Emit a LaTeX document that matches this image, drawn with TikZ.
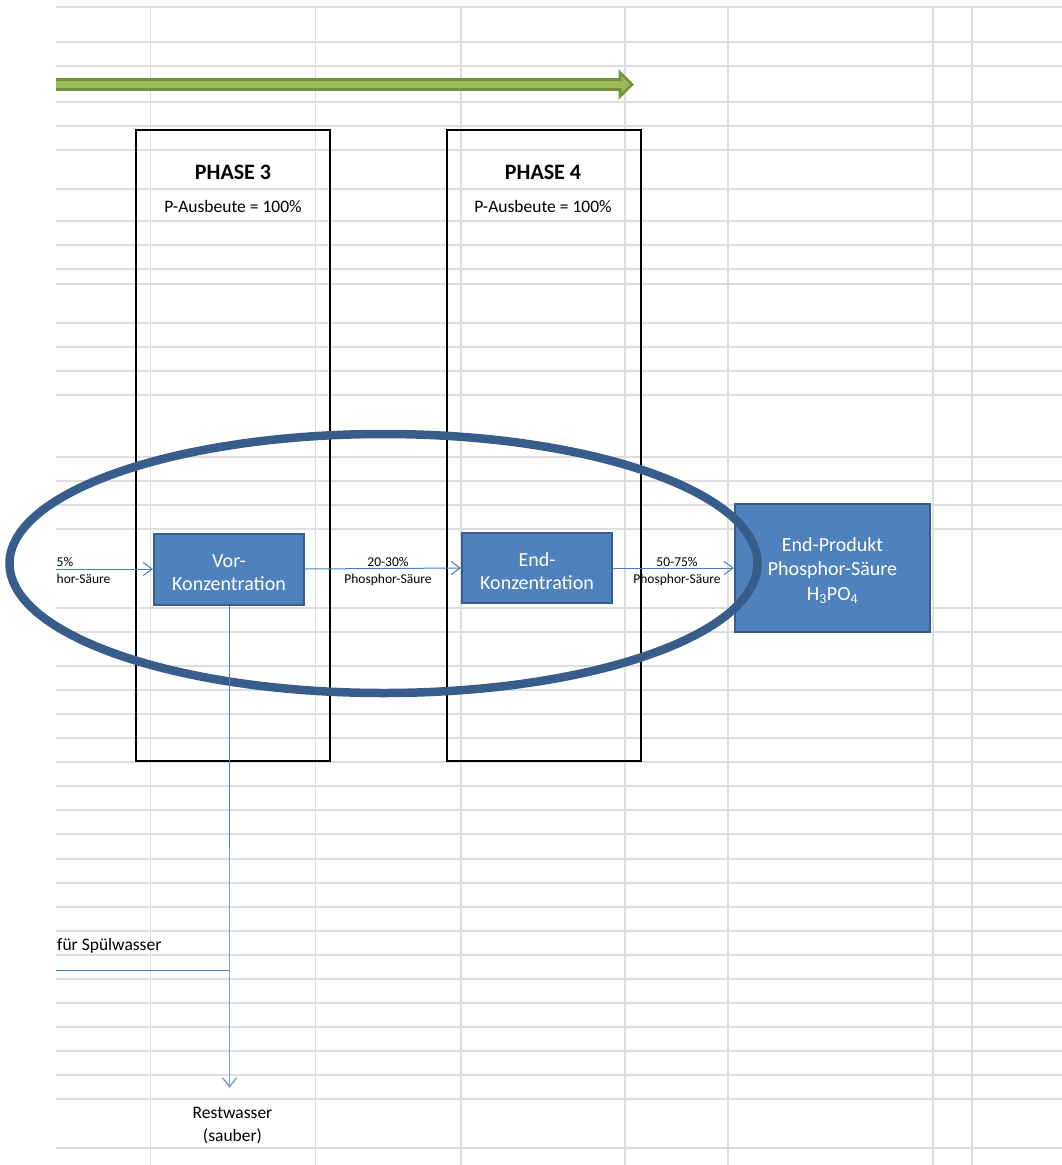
\documentclass[tikz,border=0pt]{standalone}
\usepackage{fontspec}
\setmainfont{Carlito}
\usetikzlibrary{arrows.meta}

\definecolor{gridgray}{RGB}{221,221,221}
\definecolor{boxblue}{RGB}{79,129,189}
\definecolor{boxedge}{RGB}{56,93,138}
\definecolor{ringblue}{RGB}{56,93,138}
\definecolor{flowblue}{RGB}{74,126,187}
\definecolor{drainblue}{RGB}{124,160,215}
\definecolor{arrowfill}{RGB}{155,187,89}
\definecolor{arrowedge}{RGB}{118,146,60}

% extra height in front of the first line of a box label, to seat the text a little lower
\newcommand{\firstlinelift}[1]{\rule{0pt}{#1}}

\begin{document}
\begin{tikzpicture}[x=1pt,y=-1pt,
  gridline/.style={draw=gridgray,line width=1.2},
  phasebox/.style={draw=black,line width=2.6,minimum width=194,minimum height=631,inner sep=0},
  phasetitle/.style={inner sep=0,font=\fontsize{22}{26}\selectfont\bfseries},
  yieldtext/.style={inner sep=0,font=\fontsize{17.5}{21}\selectfont},
  procbox/.style={fill=boxblue,draw=boxedge,line width=2,text=white,align=center,inner sep=0,
    font=\fontsize{20}{23}\selectfont},
  smalllabel/.style={inner sep=0,font=\fontsize{13.5}{17}\selectfont},
  notetext/.style={inner sep=0,font=\fontsize{17.5}{23}\selectfont},
  flow/.style={draw=flowblue,line width=1,-{Straight Barb[length=9,width=13]}},
  flowplain/.style={draw=flowblue,line width=1},
  drain/.style={draw=drainblue,line width=1.5,-{Straight Barb[length=9,width=14]}}
]
\useasboundingbox (0,0) rectangle (1062,1165);
\fill[white] (0,0) rectangle (1062,1165);

% worksheet grid
\foreach \y in {7,42,66,102,126,150,189,221,245,269,284,323,347,371,395,457,481,505,529,
                608,632,666,690,714,738,762,786,810,834,859,883,907,931,955,979,1003,1027,
                1051,1075,1099,1148}
  \draw[gridline] (56,\y) -- (1062,\y);
\foreach \x in {150.5,315.5,461,625,728,933,972}
  \draw[gridline] (\x,7) -- (\x,1165);

% process direction arrow
\begin{scope}
  \clip (56,0) rectangle (1062,200);
  \draw[draw=arrowedge,fill=arrowfill,line width=2.8,line join=miter]
    (40,79.5) -- (620,79.5) -- (620,72.5) -- (632,84.5) -- (620,96.5) -- (620,89.5) -- (40,89.5) -- cycle;
\end{scope}

% phase frames
\node[phasebox] (ph3) at (233,445.5) {};
\node[phasebox] (ph4) at (544,445.5) {};
\node[phasetitle,anchor=base] (ph3t) at (233,179) {PHASE 3};
\node[yieldtext,anchor=base] (ph3y) at (233,212) {P-Ausbeute = 100\%};
\node[phasetitle,anchor=base] (ph4t) at (543,179) {PHASE 4};
\node[yieldtext,anchor=base] (ph4y) at (543,212) {P-Ausbeute = 100\%};

% process steps
\node[procbox,minimum width=150,minimum height=71] (vor) at (229,569)
  {\firstlinelift{20.5pt}Vor-\\Konzentration};
\node[procbox,minimum width=150,minimum height=70] (endk) at (537,568)
  {\firstlinelift{20.5pt}End-\\Konzentration};
\node[procbox,minimum width=195,minimum height=128,font=\fontsize{20}{24.5}\selectfont] (prod)
  at (832.5,568) {\firstlinelift{18.5pt}End-Produkt\\Phosphor-Säure\\H\textsubscript{3}PO\textsubscript{4}};

% highlight ring
\draw[draw=ringblue,line width=8.5] (383.5,563.5) ellipse [x radius=374, y radius=129.5];

% flows
\coordinate (feedin) at (56,569);
\coordinate (rinse) at (56,970);
\coordinate (drainstart) at (229.5,848);
\coordinate (drainend) at (229.5,1088);
\draw[flow] (feedin) -- (vor.west);
\draw[flow] (vor.east) -- (endk.west);
\draw[flow] (endk.east) -- (prod.west);
\draw[flowplain] (vor.south) |- (rinse);
\draw[drain] (drainstart) -- (drainend);

% flow labels
\node[smalllabel,anchor=base west] (inA) at (56.5,566) {5\%};
\node[smalllabel,anchor=base west] (inB) at (56.5,583) {hor-Säure};
\node[smalllabel,anchor=base] (midA) at (388,566) {20-30\%};
\node[smalllabel,anchor=base] (midB) at (388,583) {Phosphor-Säure};
\node[smalllabel,anchor=base] (outA) at (677,566) {50-75\%};
\node[smalllabel,anchor=base] (outB) at (677,583) {Phosphor-Säure};
\node[notetext,anchor=base west] (rinsel) at (57,950) {für Spülwasser};
\node[notetext,anchor=base] (restA) at (232.5,1118) {Restwasser};
\node[notetext,anchor=base] (restB) at (232.5,1141) {(sauber)};
\end{tikzpicture}
\end{document}
